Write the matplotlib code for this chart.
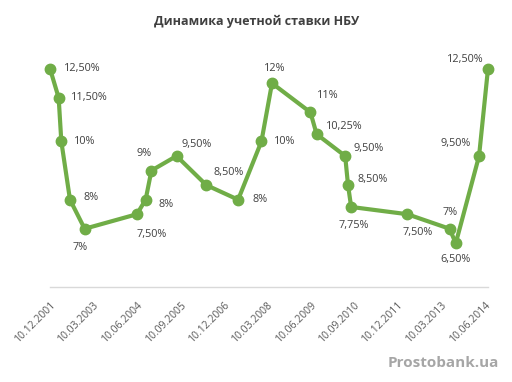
import datetime as dt

import matplotlib
matplotlib.use("Agg")
import matplotlib.dates as mdates
from matplotlib import pyplot as plt

# NBU discount rate changes
dates = ["2001-12-10", "2002-03-11", "2002-04-08", "2002-07-08", "2002-12-09",
         "2004-06-10", "2004-09-10", "2004-11-10", "2005-08-01", "2006-06-10",
         "2007-05-10", "2008-01-10", "2008-04-30", "2009-06-08", "2009-08-12",
         "2010-06-08", "2010-07-08", "2010-08-10", "2012-03-23", "2013-06-10",
         "2013-08-13", "2014-04-15", "2014-07-18"]
rates = [12.5, 11.5, 10, 8, 7,
         7.5, 8, 9, 9.5, 8.5,
         8, 10, 12, 11, 10.25,
         9.5, 8.5, 7.75, 7.5, 7,
         6.5, 9.5, 12.5]
tick_dates = ["2001-12-10", "2003-03-10", "2004-06-10", "2005-09-10", "2006-12-10",
              "2008-03-10", "2009-06-10", "2010-09-10", "2011-12-10", "2013-03-10",
              "2014-06-10"]

# label placement around each point, in pixels (dx, dy)
offsets = [(32, 0), (31, 0), (23, 0), (21, 2), (-5, -19),
           (15, -20), (20, -5), (-7, 17), (20, 12), (22, 13),
           (22, 0), (23, 0), (3, 15), (17, 17), (28, 8),
           (23, 8), (25, 6), (3, -19), (10, -18), (0, 16),
           (0, -16), (-23, 13), (-23, 9)]


def fmt_rate(v):
    if v == int(v):
        return "%d%%" % v
    return ("%.2f%%" % v).replace(".", ",")


x = [dt.datetime.strptime(d, "%Y-%m-%d") for d in dates]
ticks = [dt.datetime.strptime(d, "%Y-%m-%d") for d in tick_dates]

plt.rcParams["font.family"] = ["Open Sans", "DejaVu Sans"]
fig = plt.figure(figsize=(5.12, 3.82), dpi=100)
ax = fig.add_axes([50 / 512, 1 - 287 / 382, 438 / 512, 262 / 382])

green = "#70ad47"
ax.plot(x, rates, color=green, linewidth=3, marker="o", markersize=7.5,
        markerfacecolor=green, markeredgecolor=green, clip_on=False,
        solid_joinstyle="round")

for xi, yi, (dx, dy) in zip(x, rates, offsets):
    ax.annotate(fmt_rate(yi), xy=(xi, yi), xytext=(dx, dy),
                textcoords="offset pixels", ha="center", va="center",
                fontsize=7.8, color="#404040")

ax.set_xlim(x[0], x[-1])
ax.set_ylim(5, 14)
ax.set_xticks(ticks)
ax.xaxis.set_major_formatter(mdates.DateFormatter("%d.%m.%Y"))
for lbl in ax.get_xticklabels():
    lbl.set_rotation(45)
    lbl.set_ha("right")
    lbl.set_rotation_mode("anchor")
    lbl.set_fontsize(7.5)
    lbl.set_color("#595959")
ax.tick_params(axis="x", length=0, pad=9)
ax.set_yticks([])
for side in ["top", "right", "left"]:
    ax.spines[side].set_visible(False)
ax.spines["bottom"].set_color("#d9d9d9")
ax.spines["bottom"].set_linewidth(1)

fig.text(257 / 512, 1 - 21 / 382, "Динамика учетной ставки НБУ",
         ha="center", va="center", fontsize=9, fontweight="bold",
         color="#404040")
fig.text(443 / 512, 1 - 363 / 382, "Prostobank.ua", ha="center",
         va="center", fontsize=11, fontweight="bold", color="#a6a6a6")

fig.savefig("out.png", dpi=100)
